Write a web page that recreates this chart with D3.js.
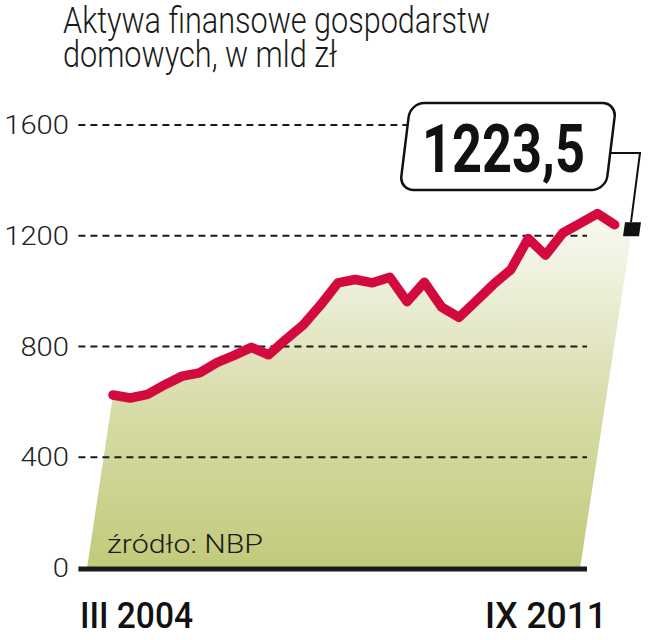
<!DOCTYPE html>
<html>
<head>
<meta charset="utf-8">
<script src="https://cdn.jsdelivr.net/npm/d3@7"></script>
<style>
  html, body { margin: 0; padding: 0; background: #ffffff; }
  svg { display: block; }
</style>
</head>
<body>
<svg id="chart" width="649" height="640"></svg>
<script>
// ---- data ----
const quarters = [
  "III 2004","VI 2004","IX 2004","XII 2004",
  "III 2005","VI 2005","IX 2005","XII 2005",
  "III 2006","VI 2006","IX 2006","XII 2006",
  "III 2007","VI 2007","IX 2007","XII 2007",
  "III 2008","VI 2008","IX 2008","XII 2008",
  "III 2009","VI 2009","IX 2009","XII 2009",
  "III 2010","VI 2010","IX 2010","XII 2010",
  "III 2011","VI 2011","IX 2011"
];
const values = [
  625, 614, 627, 662,
  693, 705, 742, 768,
  797, 770, 826, 878,
  950, 1030, 1042, 1030,
  1050, 962, 1032, 942,
  905, 965, 1025, 1078,
  1190, 1130, 1210, 1245,
  1280, 1240, 1223.5
];
const yTicks = [0, 400, 800, 1200, 1600];
const xLabels = ["III 2004", "IX 2011"];
const titleLines = ["Aktywa finansowe gospodarstw", "domowych, w mld zł"];
const sourceText = "źródło: NBP";
const lastLabel = "1223,5";

// ---- layout ----
const svg = d3.select("#chart");
const n = values.length;
const x = d3.scaleLinear().domain([0, n - 1]).range([113, 632]);
const y = d3.scaleLinear().domain([0, 1600]).range([568, 125]);

const pts = values.map((v, i) => [x(i), y(v)]);

// gradient
const defs = svg.append("defs");
const grad = defs.append("linearGradient")
  .attr("id", "fillGrad")
  .attr("gradientUnits", "userSpaceOnUse")
  .attr("x1", 0).attr("x2", 0)
  .attr("y1", y(0)).attr("y2", y(1300));
grad.append("stop").attr("offset", 0).attr("stop-color", "#c2ca7b");
grad.append("stop").attr("offset", 0.45).attr("stop-color", "#d8dca8");
grad.append("stop").attr("offset", 0.8).attr("stop-color", "#eef0dc");
grad.append("stop").attr("offset", 1).attr("stop-color", "#fbfbf4");

// area (slanted sides, as in the original)
const areaPoly = [[x(-1.5), y(0)], ...pts, [x(27), y(0)]];
svg.append("path")
  .attr("d", d3.line()(areaPoly) + "Z")
  .attr("fill", "url(#fillGrad)");

// gridlines
svg.append("g").selectAll("line")
  .data(yTicks.filter(t => t > 0))
  .join("line")
  .attr("x1", x(-2)).attr("x2", x(27.4))
  .attr("y1", d => y(d)).attr("y2", d => y(d))
  .attr("stroke", "#1a1a1a")
  .attr("stroke-width", 2.2)
  .attr("stroke-dasharray", "7,5");

// baseline
svg.append("line")
  .attr("x1", x(-2)).attr("x2", x(27.4))
  .attr("y1", y(0) + 1).attr("y2", y(0) + 1)
  .attr("stroke", "#1a1a1a")
  .attr("stroke-width", 5);

// y tick labels
svg.append("g").selectAll("text")
  .data(yTicks)
  .join("text")
  .attr("x", 69)
  .attr("y", d => y(d) + 9)
  .attr("text-anchor", "end")
  .attr("font-family", "Roboto, 'Noto Sans', sans-serif")
  .attr("font-weight", 300)
  .attr("font-size", 25)
  .attr("fill", "#222")
  .attr("textLength", d => String(d).length * 16.2)
  .attr("lengthAdjust", "spacingAndGlyphs")
  .text(d => d);

// red line (to the point before the last; last is marked by a square)
svg.append("path")
  .attr("d", d3.line()(pts.slice(0, n - 1)))
  .attr("fill", "none")
  .attr("stroke", "#d20a3e")
  .attr("stroke-width", 9.5)
  .attr("stroke-linejoin", "round")
  .attr("stroke-linecap", "round");

// last point marker
const last = pts[n - 1];
svg.append("rect")
  .attr("transform", `translate(${last[0]},${last[1]}) skewX(-8)`)
  .attr("x", -8).attr("y", -7)
  .attr("width", 16).attr("height", 14)
  .attr("fill", "#111");

// connector
svg.append("polyline")
  .attr("points", `610,153 640,153 ${last[0] - 1},${last[1] - 7}`)
  .attr("fill", "none")
  .attr("stroke", "#111")
  .attr("stroke-width", 2);

// callout box
svg.append("rect")
  .attr("transform", "translate(508,146.5) skewX(-7)")
  .attr("x", -103).attr("y", -43.5)
  .attr("width", 206).attr("height", 87)
  .attr("rx", 14).attr("ry", 14)
  .attr("fill", "#fff")
  .attr("stroke", "#111")
  .attr("stroke-width", 2.5);

svg.append("text")
  .attr("x", 503.5).attr("y", 172)
  .attr("text-anchor", "middle")
  .attr("font-family", "Roboto, 'Noto Sans', sans-serif")
  .attr("font-weight", 700)
  .attr("font-size", 66)
  .attr("fill", "#111")
  .attr("textLength", 163)
  .attr("lengthAdjust", "spacingAndGlyphs")
  .text(lastLabel);

// title (one text block, two lines)
const titleLens = [427, 274];
const title = svg.append("text")
  .attr("font-family", "Roboto, 'Noto Sans', sans-serif")
  .attr("font-weight", 300)
  .attr("font-size", 36)
  .attr("fill", "#1a1a1a");
title.selectAll("tspan")
  .data(titleLines)
  .join("tspan")
  .attr("x", 63)
  .attr("y", (d, i) => 33 + i * 34)
  .attr("textLength", (d, i) => titleLens[i])
  .attr("lengthAdjust", "spacingAndGlyphs")
  .text(d => d);

// source
svg.append("text")
  .attr("x", 107).attr("y", 553)
  .attr("font-family", "Roboto, 'Noto Sans', sans-serif")
  .attr("font-weight", 300)
  .attr("font-size", 25)
  .attr("fill", "#1a1a1a")
  .attr("textLength", 156)
  .attr("lengthAdjust", "spacingAndGlyphs")
  .text(sourceText);

// x labels
svg.append("text")
  .attr("x", 80).attr("y", 628)
  .attr("font-family", "Roboto, 'Noto Sans', sans-serif")
  .attr("font-weight", 500)
  .attr("font-size", 37)
  .attr("fill", "#111")
  .attr("textLength", 113)
  .attr("lengthAdjust", "spacingAndGlyphs")
  .text(xLabels[0]);
svg.append("text")
  .attr("x", 607).attr("y", 628)
  .attr("text-anchor", "end")
  .attr("font-family", "Roboto, 'Noto Sans', sans-serif")
  .attr("font-weight", 500)
  .attr("font-size", 37)
  .attr("fill", "#111")
  .attr("textLength", 122)
  .attr("lengthAdjust", "spacingAndGlyphs")
  .text(xLabels[1]);
</script>
</body>
</html>
